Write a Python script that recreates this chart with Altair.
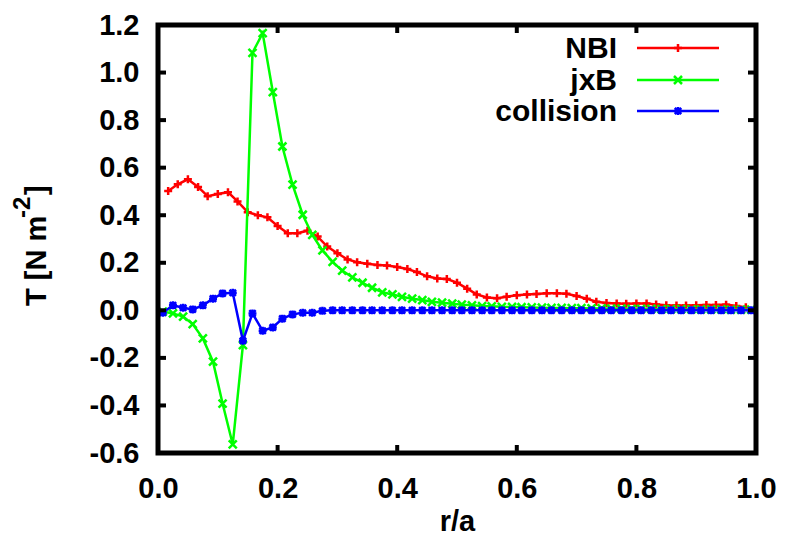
import altair as alt
import pandas as pd

# ---- data ----
nbi_x = [0.017, 0.033, 0.050, 0.067, 0.083, 0.100, 0.117, 0.133, 0.150, 0.167,
         0.183, 0.200, 0.217, 0.233, 0.250, 0.267, 0.283, 0.300, 0.317, 0.333,
         0.350, 0.367, 0.383, 0.400, 0.417, 0.433, 0.450, 0.467, 0.483, 0.500,
         0.517, 0.533, 0.550, 0.567, 0.583, 0.600, 0.617, 0.633, 0.650, 0.667,
         0.683, 0.700, 0.717, 0.733, 0.750, 0.767, 0.783, 0.800, 0.817, 0.833,
         0.850, 0.867, 0.883, 0.900, 0.917, 0.933, 0.950, 0.967, 0.983]
nbi_y = [0.502, 0.530, 0.551, 0.519, 0.480, 0.489, 0.497, 0.458, 0.413, 0.400,
         0.391, 0.355, 0.324, 0.324, 0.335, 0.310, 0.268, 0.240, 0.214, 0.202,
         0.196, 0.191, 0.189, 0.182, 0.174, 0.161, 0.143, 0.134, 0.132, 0.116,
         0.091, 0.067, 0.054, 0.051, 0.057, 0.063, 0.067, 0.069, 0.072, 0.072,
         0.070, 0.060, 0.049, 0.036, 0.031, 0.029, 0.028, 0.029, 0.029, 0.025,
         0.021, 0.020, 0.020, 0.021, 0.022, 0.022, 0.024, 0.018, 0.013]

grid_x = [0.008, 0.025, 0.042, 0.058, 0.075, 0.092, 0.108, 0.125, 0.142, 0.158,
          0.175, 0.192, 0.208, 0.225, 0.242, 0.258, 0.275, 0.292, 0.308, 0.325,
          0.342, 0.358, 0.375, 0.392, 0.408, 0.425, 0.442, 0.458, 0.475, 0.492,
          0.508, 0.525, 0.542, 0.558, 0.575, 0.592, 0.608, 0.625, 0.642, 0.658,
          0.675, 0.692, 0.708, 0.725, 0.742, 0.758, 0.775, 0.792, 0.808, 0.825,
          0.842, 0.858, 0.875, 0.892, 0.908, 0.925, 0.942, 0.958, 0.975, 0.992]
jxb_y = [-0.005, -0.013, -0.026, -0.058, -0.118, -0.216, -0.392, -0.564, -0.146, 1.083,
         1.166, 0.918, 0.689, 0.529, 0.402, 0.317, 0.252, 0.204, 0.167, 0.139,
         0.116, 0.095, 0.076, 0.067, 0.057, 0.049, 0.043, 0.036, 0.032, 0.028,
         0.024, 0.021, 0.018, 0.017, 0.015, 0.014, 0.013, 0.012, 0.011, 0.010,
         0.010, 0.009, 0.009, 0.008, 0.008, 0.007, 0.007, 0.006, 0.006, 0.006,
         0.005, 0.005, 0.005, 0.004, 0.004, 0.004, 0.004, 0.003, 0.003, 0.003]
coll_y = [-0.010, 0.021, 0.011, 0.004, 0.021, 0.049, 0.071, 0.074, -0.128, -0.013,
          -0.086, -0.072, -0.035, -0.017, -0.010, -0.010, -0.002, 0.0, 0.0, 0.0,
          0.0, 0.0, 0.0, 0.0, 0.0, 0.0, 0.0, 0.0, 0.0, 0.0,
          0.0, 0.0, 0.0, 0.0, 0.0, 0.0, 0.0, 0.0, 0.0, 0.0,
          0.0, 0.0, 0.0, 0.0, 0.0, 0.0, 0.0, 0.0, 0.0, 0.0,
          0.0, 0.0, 0.0, 0.0, 0.0, 0.0, 0.0, 0.0, 0.0, 0.0]

series_names = ["NBI", "jxB", "collision"]
series_colors = ["#ff0000", "#00ff00", "#0000ff"]
x_ticks = [0.0, 0.2, 0.4, 0.6, 0.8, 1.0]
y_ticks = [-0.6, -0.4, -0.2, 0.0, 0.2, 0.4, 0.6, 0.8, 1.0, 1.2]
y_title_parts = ["T [N m", "-2", "]"]

# ---- styles ----
W, H = 598, 428
FONT = "Liberation Sans"
FS = 29
LW = 2.5
MS = 64
PLUS = "M-1,0L1,0M0,-1L0,1"
CROSS = "M-1,-1L1,1M-1,1L1,-1"
STAR = "M-1,0L1,0M0,-1L0,1M-0.8,-0.8L0.8,0.8M-0.8,0.8L0.8,-0.8"
shapes = [PLUS, CROSS, STAR]
LABEL_EXPR = "replace(format(datum.value, '.1f'), '\u2212', '-')"

x_enc = alt.X("x:Q", scale=alt.Scale(domain=[0, 1], nice=False, zero=False),
              axis=alt.Axis(title="r/a", values=x_ticks, labelExpr=LABEL_EXPR,
                            labelFlush=False, labelPadding=21, titlePadding=4))
y_enc = alt.Y("y:Q", scale=alt.Scale(domain=[-0.6, 1.2], nice=False, zero=False),
              axis=alt.Axis(title=None, values=y_ticks, labelExpr=LABEL_EXPR,
                            labelFlush=False, labelPadding=19))

frames = [
    pd.DataFrame({"x": nbi_x, "y": nbi_y}),
    pd.DataFrame({"x": grid_x, "y": jxb_y}),
    pd.DataFrame({"x": grid_x, "y": coll_y}),
]

layers = []
for df, col, shp in zip(frames, series_colors, shapes):
    layers.append(
        alt.Chart(df).mark_line(color=col, strokeWidth=LW).encode(x=x_enc, y=y_enc)
    )
    layers.append(
        alt.Chart(df).mark_point(shape=shp, filled=False, color=col, size=MS,
                                 strokeWidth=LW, opacity=1).encode(x=x_enc, y=y_enc)
    )

# inward mirrored ticks (gnuplot style)
yt = pd.DataFrame({"y": y_ticks})
xt = pd.DataFrame({"x": x_ticks})
TL = 8
layers += [
    alt.Chart(yt).mark_rule(color="black", strokeWidth=4).encode(
        y=y_enc, x=alt.value(0), x2=alt.value(TL)),
    alt.Chart(yt).mark_rule(color="black", strokeWidth=4).encode(
        y=y_enc, x=alt.value(W - TL), x2=alt.value(W)),
    alt.Chart(xt).mark_rule(color="black", strokeWidth=4).encode(
        x=x_enc, y=alt.value(H), y2=alt.value(H - TL)),
    alt.Chart(xt).mark_rule(color="black", strokeWidth=4).encode(
        x=x_enc, y=alt.value(0), y2=alt.value(TL)),
]

one = pd.DataFrame({"k": [0]})
# frame
layers.append(
    alt.Chart(one).mark_rect(fillOpacity=0, stroke="black", strokeWidth=5).encode(
        x=alt.value(0), x2=alt.value(W), y=alt.value(0), y2=alt.value(H))
)

# y-axis title with a real superscript
tdf = pd.DataFrame({"t": y_title_parts})
layers += [
    alt.Chart(tdf).transform_filter(alt.datum.t == y_title_parts[0]).mark_text(
        angle=270, align="left", baseline="middle", font=FONT, fontSize=FS,
        fontWeight="bold", color="black").encode(
        text="t:N", x=alt.value(-121), y=alt.value(281)),
    alt.Chart(tdf).transform_filter(alt.datum.t == y_title_parts[1]).mark_text(
        angle=270, align="left", baseline="middle", font=FONT, fontSize=24,
        fontWeight="bold", color="black").encode(
        text="t:N", x=alt.value(-135), y=alt.value(193)),
    alt.Chart(tdf).transform_filter(alt.datum.t == y_title_parts[2]).mark_text(
        angle=270, align="left", baseline="middle", font=FONT, fontSize=FS,
        fontWeight="bold", color="black").encode(
        text="t:N", x=alt.value(-121), y=alt.value(170)),
]

# key (top right, labels to the left of samples)
key_y = [23, 55, 86]
for name, col, shp, ky in zip(series_names, series_colors, shapes, key_y):
    kd = pd.DataFrame({"label": [name]})
    layers += [
        alt.Chart(kd).mark_text(align="right", baseline="middle", font=FONT,
                                fontSize=30, fontWeight="bold", color="black").encode(
            text="label:N", x=alt.value(459), y=alt.value(ky + 1)),
        alt.Chart(kd).mark_rule(color=col, strokeWidth=LW).encode(
            x=alt.value(479), x2=alt.value(561), y=alt.value(ky)),
        alt.Chart(kd).mark_point(shape=shp, filled=False, color=col, size=MS,
                                 strokeWidth=LW, opacity=1).encode(
            x=alt.value(520), y=alt.value(ky)),
    ]

chart = alt.layer(*layers).properties(
    width=W, height=H,
    autosize=alt.AutoSizeParams(type="none"),
    padding={"left": 150, "top": 17, "right": 21, "bottom": 90},
    background="white",
).configure_view(
    strokeWidth=0
).configure_axis(
    domain=False, ticks=False, grid=False,
    labelFont=FONT, labelFontSize=FS, labelFontWeight="bold", labelColor="black",
    titleFont=FONT, titleFontSize=FS, titleFontWeight="bold", titleColor="black",
)

chart.save("out.html", embed_options={"renderer": "svg", "actions": False})
